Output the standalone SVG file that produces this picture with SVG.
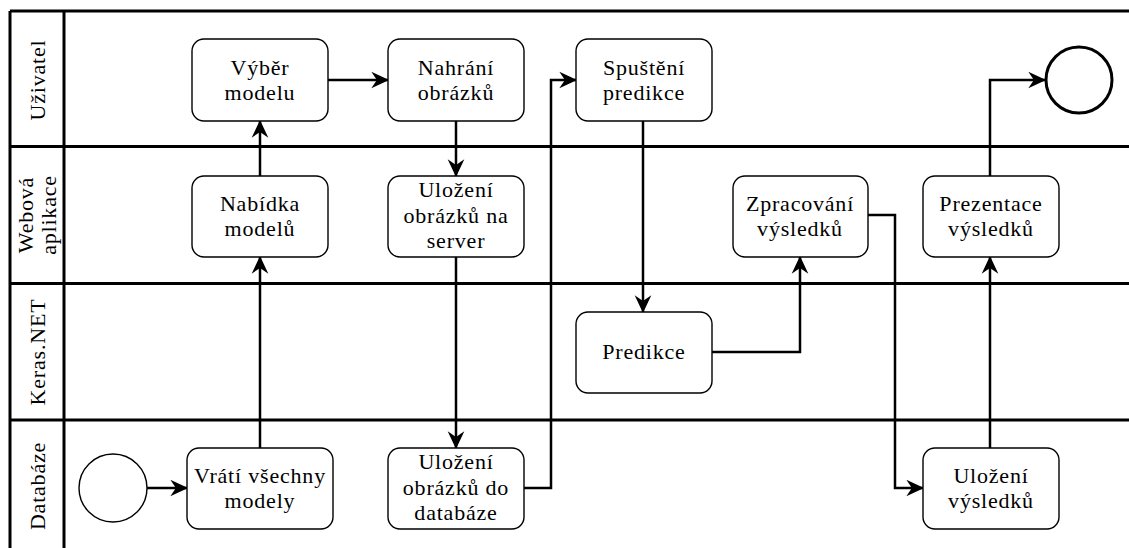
<svg xmlns="http://www.w3.org/2000/svg" width="1129" height="548" viewBox="0 0 1129 548">
  <style>
    .lane { stroke: #000; stroke-width: 3; fill: none; }
    .node rect { fill: #fff; stroke: #000; stroke-width: 1.4; }
    .txt { font-family: 'Liberation Serif', 'Times New Roman', 'DejaVu Serif', serif; font-size: 22px; letter-spacing: 0.8px; fill: #000; text-anchor: middle; }
    .edge { fill: none; stroke: #000; stroke-width: 2.5; marker-end: url(#arrow); }
  </style>
  <defs>
    <marker id="arrow" markerUnits="userSpaceOnUse" markerWidth="20" markerHeight="20" viewBox="-16 -8 18 16" refX="0" refY="0" orient="auto">
      <path d="M1,0 L-15,-7.5 L-10,0 L-15,7.5 Z" fill="#000"/>
    </marker>
  </defs>
  <rect width="1129" height="548" fill="#fff"/>

  <!-- pool frame and lane dividers -->
  <g id="lanes">
    <path class="lane" d="M10,11 H1129 M10,146.5 H1129 M10,283.5 H1129 M10,420 H1129 M10,11 V548 M64,11 V548"/>
    <text class="txt" transform="translate(45,80) rotate(-90)">Uživatel</text>
    <text class="txt" transform="translate(33,215) rotate(-90)"><tspan x="0" dy="0">Webová</tspan><tspan x="0" dy="23">aplikace</tspan></text>
    <text class="txt" transform="translate(45,352) rotate(-90)">Keras.NET</text>
    <text class="txt" transform="translate(45,486) rotate(-90)">Databáze</text>
  </g>

  <!-- connectors -->
  <g id="connectors">
    <path class="edge" d="M328,80 H388"/>
    <path class="edge" d="M260,176 V121"/>
    <path class="edge" d="M260,448 V257"/>
    <path class="edge" d="M147,488 H187"/>
    <path class="edge" d="M456,121 V176"/>
    <path class="edge" d="M456,257 V448"/>
    <path class="edge" d="M524,488 H551 V80 H576"/>
    <path class="edge" d="M643,121 V312"/>
    <path class="edge" d="M712,352 H800 V257"/>
    <path class="edge" d="M868,215 H895 V488 H923"/>
    <path class="edge" d="M990,448 V257"/>
    <path class="edge" d="M990,176 V80 H1045"/>
  </g>

  <!-- events -->
  <g id="start">
    <circle cx="113" cy="488" r="34" fill="#fff" stroke="#000" stroke-width="1.4"/>
  </g>
  <g id="end">
    <circle cx="1079" cy="80" r="33" fill="#fff" stroke="#000" stroke-width="3"/>
  </g>

  <!-- tasks -->
  <g id="vyber-modelu" class="node">
    <rect x="192" y="39" width="136" height="82" rx="12"/>
    <text class="txt" x="260" y="75">Výběr<tspan x="260" dy="25">modelu</tspan></text>
  </g>
  <g id="nabidka-modelu" class="node">
    <rect x="192" y="176" width="136" height="81" rx="12"/>
    <text class="txt" x="260" y="211">Nabídka<tspan x="260" dy="25">modelů</tspan></text>
  </g>
  <g id="nahrani-obrazku" class="node">
    <rect x="388" y="39" width="136" height="82" rx="12"/>
    <text class="txt" x="456" y="75">Nahrání<tspan x="456" dy="25">obrázků</tspan></text>
  </g>
  <g id="ulozeni-server" class="node">
    <rect x="388" y="176" width="136" height="81" rx="12"/>
    <text class="txt" x="456" y="197">Uložení<tspan x="456" dy="25.5">obrázků na</tspan><tspan x="456" dy="25.5">server</tspan></text>
  </g>
  <g id="spusteni-predikce" class="node">
    <rect x="576" y="39" width="136" height="82" rx="12"/>
    <text class="txt" x="644" y="75">Spuštění<tspan x="644" dy="25">predikce</tspan></text>
  </g>
  <g id="predikce" class="node">
    <rect x="576" y="312" width="136" height="81" rx="12"/>
    <text class="txt" x="644" y="359">Predikce</text>
  </g>
  <g id="zpracovani-vysledku" class="node">
    <rect x="733" y="176" width="135" height="81" rx="12"/>
    <text class="txt" x="800" y="211">Zpracování<tspan x="800" dy="25">výsledků</tspan></text>
  </g>
  <g id="prezentace-vysledku" class="node">
    <rect x="923" y="176" width="136" height="81" rx="12"/>
    <text class="txt" x="991" y="211">Prezentace<tspan x="991" dy="25">výsledků</tspan></text>
  </g>
  <g id="vrati-modely" class="node">
    <rect x="187" y="448" width="146" height="81" rx="12"/>
    <text class="txt" x="260" y="483">Vrátí všechny<tspan x="260" dy="25">modely</tspan></text>
  </g>
  <g id="ulozeni-databaze" class="node">
    <rect x="388" y="448" width="136" height="81" rx="12"/>
    <text class="txt" x="456" y="469">Uložení<tspan x="456" dy="25.5">obrázků do</tspan><tspan x="456" dy="25.5">databáze</tspan></text>
  </g>
  <g id="ulozeni-vysledku" class="node">
    <rect x="923" y="448" width="136" height="81" rx="12"/>
    <text class="txt" x="991" y="483">Uložení<tspan x="991" dy="25">výsledků</tspan></text>
  </g>
</svg>
